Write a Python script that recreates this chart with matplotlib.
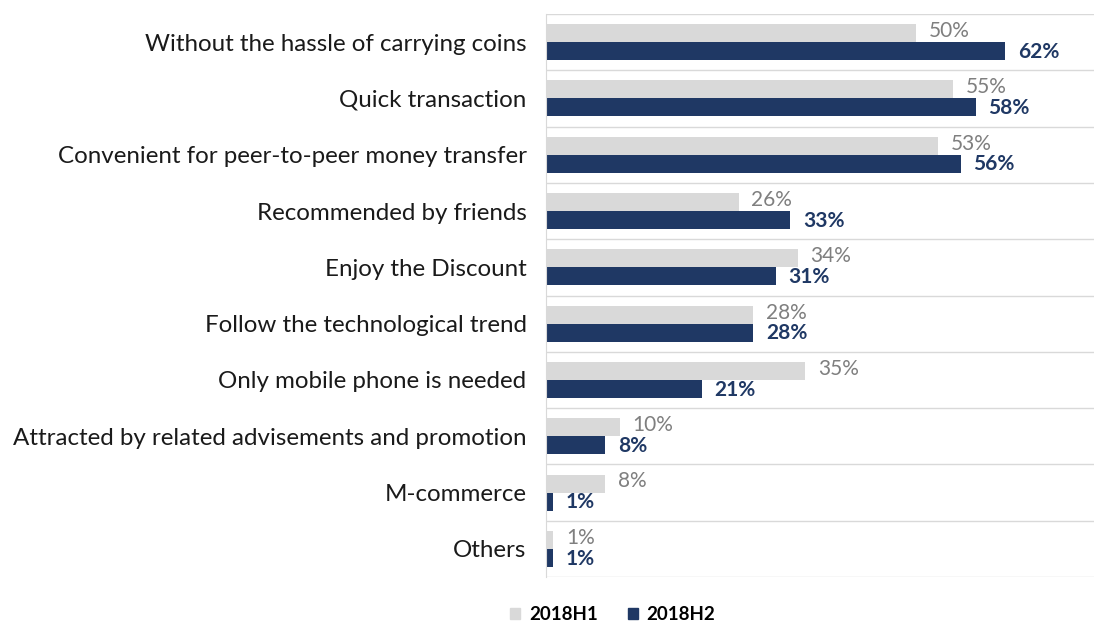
import matplotlib.pyplot as plt
from matplotlib.patches import Patch

categories = [
    "Without the hassle of carrying coins",
    "Quick transaction",
    "Convenient for peer-to-peer money transfer",
    "Recommended by friends",
    "Enjoy the Discount",
    "Follow the technological trend",
    "Only mobile phone is needed",
    "Attracted by related advisements and promotion",
    "M-commerce",
    "Others",
]
h1_values = [50, 55, 53, 26, 34, 28, 35, 10, 8, 1]
h2_values = [62, 58, 56, 33, 31, 28, 21, 8, 1, 1]
series_names = ["2018H1", "2018H2"]

GRAY = "#d9d9d9"
NAVY = "#1f3864"
LABEL_GRAY = "#7f7f7f"

plt.rcParams["font.family"] = ["Lato", "DejaVu Sans"]

fig = plt.figure(figsize=(10.94, 6.26), dpi=100)
ax = fig.add_axes([0.4991, 0.0783, 0.5009, 0.8993])

bar_h = 0.32
ys = list(range(len(categories)))
y1 = [y - bar_h / 2 for y in ys]
y2 = [y + bar_h / 2 for y in ys]

ax.barh(y1, h1_values, height=bar_h, color=GRAY, zorder=2)
ax.barh(y2, h2_values, height=bar_h, color=NAVY, zorder=2)

# value labels just past the bar ends, nudged apart so pairs don't collide
for y, v in zip(y1, h1_values):
    ax.annotate(f"{v}%", (v, y), xytext=(9, 1.5), textcoords="offset points",
                va="center", ha="left", fontsize=15, color=LABEL_GRAY)
for y, v in zip(y2, h2_values):
    ax.annotate(f"{v}%", (v, y), xytext=(9, -0.5), textcoords="offset points",
                va="center", ha="left", fontsize=15, color=NAVY,
                fontweight="bold")

ax.set_xlim(0, 74)
ax.set_ylim(len(categories) - 0.5, -0.5)

ax.set_yticks(ys)
ax.set_yticklabels(categories, fontsize=17.4, color="#1a1a1a")
ax.tick_params(axis="y", length=0, pad=14)
ax.set_xticks([])

# separators between the category rows
ax.set_yticks([y + 0.5 for y in range(-1, len(categories))], minor=True)
ax.tick_params(axis="y", which="minor", length=0)
ax.grid(axis="y", which="minor", color="#d9d9d9", linewidth=1, zorder=0)

for side in ["top", "right", "bottom"]:
    ax.spines[side].set_visible(False)
ax.spines["left"].set_color("#d9d9d9")

handles = [Patch(color=GRAY), Patch(color=NAVY)]
fig.legend(handles, series_names, loc="center", bbox_to_anchor=(0.56, 0.018),
           ncol=2, frameon=False, handlelength=0.55, handleheight=0.55,
           handletextpad=0.45, columnspacing=1.6,
           prop={"weight": "bold", "size": 13.5})

fig.savefig("out.png", dpi=100)
